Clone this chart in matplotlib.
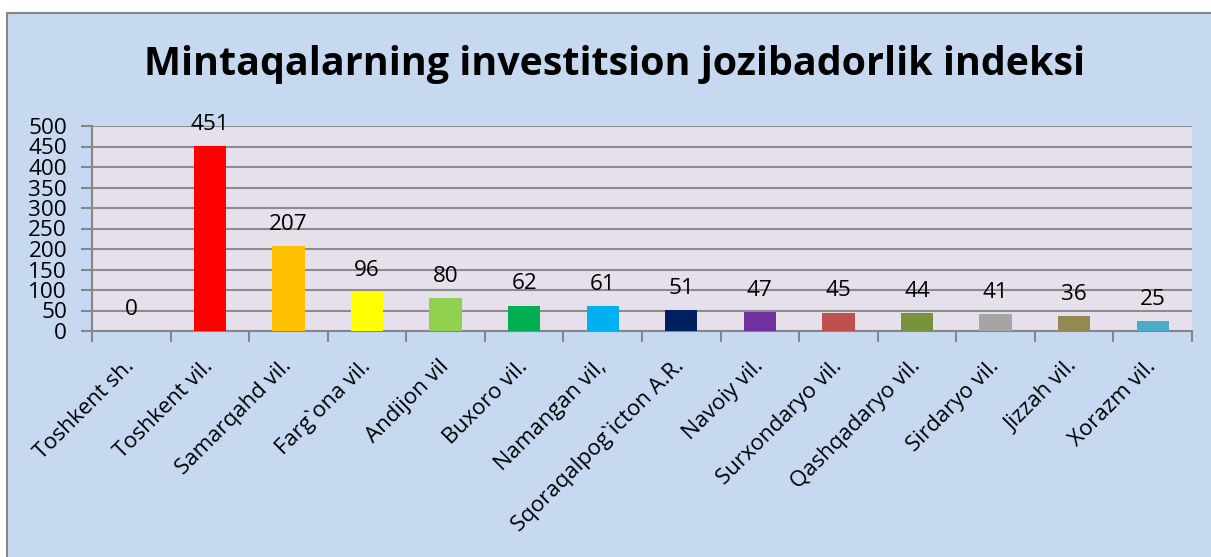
import matplotlib
matplotlib.use("Agg")
import matplotlib.pyplot as plt
from matplotlib.patches import Rectangle
from matplotlib.transforms import ScaledTranslation

categories = ["Toshkent sh.", "Toshkent vil.", "Samarqahd vil.", "Farg`ona vil.",
              "Andijon vil", "Buxoro vil.", "Namangan vil,", "Sqoraqalpog`icton A.R.",
              "Navoiy vil.", "Surxondaryo vil.", "Qashqadaryo vil.", "Sirdaryo vil.",
              "Jizzah vil.", "Xorazm vil."]
values = [0, 451, 207, 96, 80, 62, 61, 51, 47, 45, 44, 41, 36, 25]
colors = ["#FF0000", "#FF0000", "#FFC000", "#FFFF00", "#92D050", "#00B050", "#00B0F0",
          "#002060", "#7030A0", "#C0504D", "#77933C", "#A5A5A5", "#948A54", "#4BACC6"]
yticks = [0, 50, 100, 150, 200, 250, 300, 350, 400, 450, 500]
title = "Mintaqalarning investitsion jozibadorlik indeksi"

W, H = 1211, 557
fig = plt.figure(figsize=(W / 100, H / 100), dpi=100)
fig.patch.set_facecolor("white")

# chart frame
frame = Rectangle((7 / W, -0.1), 1.2, 1 - 13 / H + 0.1, transform=fig.transFigure,
                  facecolor="#C6D9F1", edgecolor="#868686", linewidth=1.5, zorder=-10)
fig.patches.append(frame)

ax = fig.add_axes([92 / W, 1 - 331 / H, (1192 - 92) / W, (331 - 126) / H])
ax.set_zorder(1)
ax.set_facecolor("#E6E0EC")

x = list(range(len(categories)))
ax.bar(x, values, width=0.41, color=colors, zorder=3)
for xi, v in zip(x, values):
    ax.annotate(str(v), (xi, v), xytext=(0, 8), textcoords="offset points",
                ha="center", va="bottom", fontsize=16.2, family="Open Sans", color="black",
                annotation_clip=False)

ax.set_xlim(-0.5, len(categories) - 0.5)
ax.set_ylim(0, 500)
ax.set_yticks(yticks)
ax.set_yticklabels([str(t) for t in yticks], fontsize=16.2, family="Open Sans")
ax.yaxis.grid(True, color="#8C8C8C", linewidth=1.5, zorder=1)
ax.set_axisbelow(True)

ax.set_xticks(x)
ax.set_xticklabels(categories, rotation=45, ha="right", va="baseline",
                   rotation_mode="anchor", fontsize=16, family="Open Sans")
ax.set_xticks([i - 0.5 for i in range(len(categories) + 1)], minor=True)
ax.tick_params(axis="x", which="major", length=0, pad=26)
ax.tick_params(axis="x", which="minor", length=8, width=1.5, color="#868686")
ax.tick_params(axis="y", length=8, width=1.5, color="#868686", pad=10)
shift = ScaledTranslation(4 / 100, 0, fig.dpi_scale_trans)
for lbl in ax.get_xticklabels():
    lbl.set_transform(lbl.get_transform() + shift)

for s in ["top", "right"]:
    ax.spines[s].set_visible(False)
for s in ["left", "bottom"]:
    ax.spines[s].set_color("#868686")
    ax.spines[s].set_linewidth(1.5)

fig.text(614 / W, 1 - 65 / H, title, fontsize=28.4, fontweight="bold", family="Open Sans",
         ha="center", va="center", color="black")

fig.savefig("out.png", dpi=100, facecolor=fig.get_facecolor())
